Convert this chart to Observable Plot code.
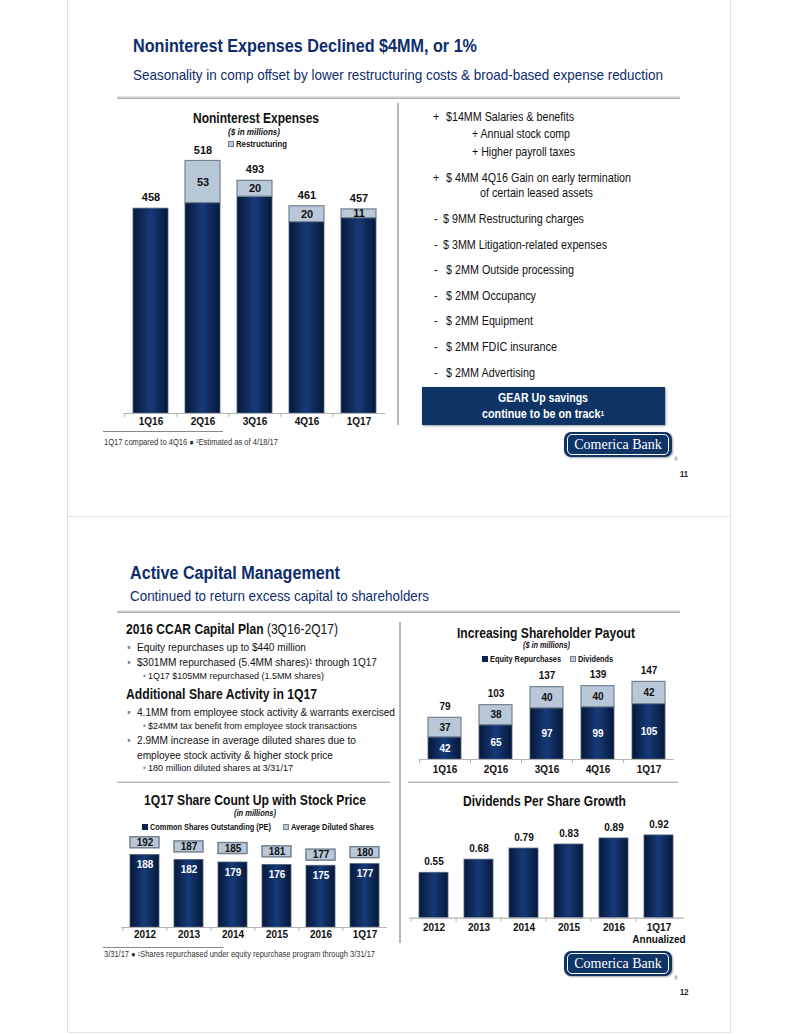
<!DOCTYPE html>
<html><head><meta charset="utf-8">
<script src="https://cdn.jsdelivr.net/npm/d3@7"></script>
<script src="https://cdn.jsdelivr.net/npm/@observablehq/plot@0.6"></script>
<style>
body{margin:0;background:#fff;}
#page{position:relative;width:799px;height:1034px;overflow:hidden;font-family:"Liberation Sans",Arial,sans-serif;}
.t{position:absolute;white-space:nowrap;transform-origin:0 50%;}
.t sup{font-size:60%;vertical-align:top;position:relative;top:-0.1em;}
.abs{position:absolute;}
.plot{position:absolute;}
</style></head><body>
<svg width="0" height="0" style="position:absolute">
  <defs>
    <linearGradient id="navy" x1="0" x2="1" y1="0" y2="0">
      <stop offset="0" stop-color="#06183a"/>
      <stop offset="0.5" stop-color="#163a78"/>
      <stop offset="1" stop-color="#06183a"/>
    </linearGradient>
  </defs>
</svg>
<div id="page"></div>
<script>
// ---------------- DATA ----------------
const nieQuarters = ["1Q16","2Q16","3Q16","4Q16","1Q17"];
const nieTotal = [458,518,493,461,457];
const nieRestructuring = [0,53,20,20,11];
const nieAxisMin = 200;

const payoutQuarters = ["1Q16","2Q16","3Q16","4Q16","1Q17"];
const equityRepurchases = [42,65,97,99,105];
const dividends = [37,38,40,40,42];
const payoutTotal = [79,103,137,139,147];

const shareYears = ["2012","2013","2014","2015","2016","1Q17"];
const commonShares = [188,182,179,176,175,177];
const dilutedShares = [192,187,185,181,177,180];
const shareAxisMin = 100;

const dpsYears = ["2012","2013","2014","2015","2016","1Q17"];
const dpsValues = [0.55,0.68,0.79,0.83,0.89,0.92];
const dpsAxisMin = 0.1;

// ---------------- STYLE ----------------
const NAVY = "#0d2d6c";
const LIGHT = "#b8c8d8";
const LIGHT_STROKE = "#75828f";
const FONT = '"Liberation Sans",Arial,sans-serif';
const page = document.getElementById("page");

function txt(html, x, y, o = {}) {
  const size = o.size || 12;
  const d = document.createElement("div");
  d.className = "t";
  d.innerHTML = html;
  d.style.fontSize = size + "px";
  d.style.lineHeight = (size * 1.2) + "px";
  d.style.top = (y - size * 0.6) + "px";
  d.style.color = o.color || "#111";
  if (o.bold) d.style.fontWeight = "bold";
  if (o.italic) d.style.fontStyle = "italic";
  page.appendChild(d);
  const nat = d.getBoundingClientRect().width;
  const w = o.w || nat * 0.84;
  const s = w / nat;
  let left = x;
  if (o.anchor === "middle") left = x - w / 2;
  if (o.anchor === "end") left = x - w;
  d.style.left = left + "px";
  d.style.transform = `scaleX(${s})`;
  return d;
}
function box(x, y, w, h, css) {
  const d = document.createElement("div");
  d.className = "abs";
  Object.assign(d.style, {left: x + "px", top: y + "px", width: w + "px", height: h + "px"}, css);
  page.appendChild(d);
  return d;
}
function rule(x1, x2, y, thick = 3) {
  box(x1, y - thick / 2, x2 - x1, thick, {background: "linear-gradient(#f0f0f0,#a8a8a8)"});
}
function vline(x, y1, y2) { box(x - 1, y1, 2, y2 - y1, {background: "#b8b8b8"}); }
function square(x, y, dark) {
  box(x - 3, y - 3, 6, 6, dark ? {background: "#0a224f"} : {background: LIGHT, border: "1px solid " + LIGHT_STROKE, boxSizing: "border-box"});
}
function logo(x, y) {
  const o = box(x, y, 108, 25, {background: "#0f3468", borderRadius: "7px", boxShadow: "1px 1px 2px rgba(0,0,0,0.35)"});
  const i = document.createElement("div");
  Object.assign(i.style, {position: "absolute", left: "3px", top: "2px", right: "3px", bottom: "2px", border: "1px solid #fff", borderRadius: "5px",
    color: "#fff", fontFamily: '"Liberation Serif","DejaVu Serif",serif', fontSize: "14px", lineHeight: "19px", textAlign: "center"});
  i.textContent = "Comerica Bank";
  o.appendChild(i);
}
function place(svg, left, top) {
  svg.classList.add("plot");
  svg.style.left = left + "px";
  svg.style.top = top + "px";
  page.appendChild(svg);
}

// ---------------- SLIDE FRAMES ----------------
box(67, -2, 664, 519, {border: "1px solid #e2e2e2", boxSizing: "border-box"});
box(67, 516, 664, 517, {border: "1px solid #e2e2e2", boxSizing: "border-box"});

// ---------------- SLIDE 1 ----------------
txt("Noninterest Expenses Declined $4MM, or 1%", 133, 47, {size: 18, bold: true, color: NAVY, w: 344});
txt("Seasonality in comp offset by lower restructuring costs &amp; broad-based expense reduction", 133, 75, {size: 15, color: NAVY, w: 530});
rule(117, 680, 97);
vline(398, 103, 425);

txt("Noninterest Expenses", 256, 118, {size: 15, bold: true, anchor: "middle", w: 126});
txt("($ in millions)", 254, 132, {size: 9, bold: true, italic: true, anchor: "middle", w: 52});
square(231, 144, false);
txt("Restructuring", 236, 144, {size: 9, bold: true, w: 51});

{
  const data = nieQuarters.map((q, i) => ({q, total: nieTotal[i], restr: nieRestructuring[i], core: nieTotal[i] - nieRestructuring[i]}));
  const W = 300, H = 295, ml = 23.25, mr = 14.75, mt = 10, mb = 22;
  const yMax = 531.2;
  const step = (W - ml - mr) / nieQuarters.length;
  const ppu = (H - mt - mb) / (yMax - nieAxisMin);
  const svg = Plot.plot({
    width: W, height: H, marginLeft: ml, marginRight: mr, marginTop: mt, marginBottom: mb,
    x: {domain: nieQuarters, paddingInner: 0.333, paddingOuter: 0.1667, axis: null},
    y: {domain: [nieAxisMin, yMax], axis: null},
    style: {fontFamily: FONT, overflow: "visible", background: "transparent"},
    marks: [
      Plot.barY(data, {x: "q", y1: () => nieAxisMin, y2: "core", fill: "url(#navy)", stroke: "#4d5f7a", strokeWidth: 0.8}),
      Plot.barY(data.filter(d => d.restr > 0), {x: "q", y1: "core", y2: "total", fill: LIGHT, stroke: LIGHT_STROKE, strokeWidth: 1.2}),
      Plot.ruleY([nieAxisMin], {stroke: "#b5b5b5", strokeWidth: 1.2}),
      Plot.ruleX(nieQuarters, {x: d => d, dx: -step / 2, y1: nieAxisMin, y2: nieAxisMin - 4 / ppu, stroke: "#b5b5b5"}),
      Plot.text(data, {x: "q", y: "total", dy: -11, text: d => String(d.total), fontSize: 11, fontWeight: "bold", fill: "#111"}),
      Plot.text(data.filter(d => d.restr > 0), {x: "q", y: d => (d.core + d.total) / 2, text: d => String(d.restr), fontSize: 11, fontWeight: "bold", fill: "#111"}),
      Plot.text(data, {x: "q", frameAnchor: "bottom", dy: 11, text: "q", fontSize: 10, fontWeight: "bold", fill: "#111"})
    ]
  });
  place(svg, 100, 140);
}

// right-side list
const L = 12.8;
txt("+", 433, 117, {size: L}); txt("$14MM Salaries &amp; benefits", 446, 117, {size: L, w: 128});
txt("+ Annual stock comp", 472, 134, {size: L, w: 98});
txt("+ Higher payroll taxes", 472, 152, {size: L, w: 103});
txt("+", 433, 178, {size: L}); txt("$ 4MM 4Q16 Gain on early termination", 446, 178, {size: L, w: 185});
txt("of certain leased assets", 480, 193, {size: L, w: 113});
txt("-", 434, 219, {size: L}); txt("$ 9MM Restructuring charges", 443, 219, {size: L, w: 141});
txt("-", 434, 245, {size: L}); txt("$ 3MM Litigation-related expenses", 443, 245, {size: L, w: 164});
txt("-", 434, 270, {size: L}); txt("$ 2MM Outside processing", 446, 270, {size: L, w: 128});
txt("-", 434, 296, {size: L}); txt("$ 2MM Occupancy", 446, 296, {size: L, w: 90});
txt("-", 434, 321, {size: L}); txt("$ 2MM Equipment", 446, 321, {size: L, w: 87});
txt("-", 434, 347, {size: L}); txt("$ 2MM FDIC insurance", 446, 347, {size: L, w: 111});
txt("-", 434, 373, {size: L}); txt("$ 2MM Advertising", 446, 373, {size: L, w: 89});

box(422, 387, 243, 38, {background: "#0e3466", boxShadow: "1px 1px 2px rgba(0,0,0,0.4)"});
txt("GEAR Up savings", 543, 398, {size: 12.5, bold: true, color: "#fff", anchor: "middle", w: 90});
txt("continue to be on track<sup>1</sup>", 543, 414, {size: 12.5, bold: true, color: "#fff", anchor: "middle", w: 122});

box(103, 431, 120, 1, {background: "#8a8a8a"});
txt("1Q17 compared to 4Q16 &#9679; <sup>1</sup>Estimated as of 4/18/17", 104, 442, {size: 8.5, color: "#333", w: 174});
logo(564, 432);
txt("&reg;", 674, 460, {size: 6, color: "#555"});
txt("11", 680, 474, {size: 9, bold: true, color: "#222"});

// ---------------- SLIDE 2 ----------------
txt("Active Capital Management", 130, 574, {size: 18, bold: true, color: NAVY, w: 210});
txt("Continued to return excess capital to shareholders", 130, 596, {size: 15, color: NAVY, w: 299});
rule(117, 680, 611);
vline(400, 622, 943);

const B = 11.5, S = 9.3;
txt("<b>2016 CCAR Capital Plan</b> (3Q16-2Q17)", 126, 630, {size: 14.5, w: 212});
txt("&#9642;", 127, 648, {size: B, color: "#888"}); txt("Equity repurchases up to $440 million", 137, 648, {size: B, w: 169});
txt("&#9642;", 127, 663, {size: B, color: "#888"}); txt("$301MM repurchased (5.4MM shares)<sup>1</sup> through 1Q17", 137, 663, {size: B, w: 240});
txt("&#8226;", 143, 677, {size: S, color: "#888"}); txt("1Q17 $105MM repurchased (1.5MM shares)", 148, 677, {size: S, w: 176});
txt("Additional Share Activity in 1Q17", 126, 695, {size: 14.5, bold: true, w: 191});
txt("&#9642;", 127, 713, {size: B, color: "#888"}); txt("4.1MM from employee stock activity &amp; warrants exercised", 137, 713, {size: B, w: 258});
txt("&#8226;", 143, 727, {size: S, color: "#888"}); txt("$24MM tax benefit from employee stock transactions", 148, 727, {size: S, w: 209});
txt("&#9642;", 127, 741, {size: B, color: "#888"}); txt("2.9MM increase in average diluted shares due to", 137, 741, {size: B, w: 219});
txt("employee stock activity &amp; higher stock price", 137, 756, {size: B, w: 196});
txt("&#8226;", 143, 769, {size: S, color: "#888"}); txt("180 million diluted shares at 3/31/17", 148, 769, {size: S, w: 145});
rule(117, 390, 782, 2.5);

// Chart 2: Increasing Shareholder Payout
txt("Increasing Shareholder Payout", 546, 633, {size: 15, bold: true, anchor: "middle", w: 178});
txt("($ in millions)", 546, 645, {size: 9, bold: true, italic: true, anchor: "middle", w: 47});
square(485, 659, true); txt("Equity Repurchases", 490, 659, {size: 9, bold: true, w: 71});
square(573, 659, false); txt("Dividends", 578, 659, {size: 9, bold: true, w: 35});
{
  const data = payoutQuarters.map((q, i) => ({q, eq: equityRepurchases[i], div: dividends[i], total: payoutTotal[i]}));
  const W = 285, H = 120, ml = 19, mr = 11, mt = 10, mb = 21, yMax = 168.6;
  const step = (W - ml - mr) / payoutQuarters.length;
  const ppu = (H - mt - mb) / yMax;
  const svg = Plot.plot({
    width: W, height: H, marginLeft: ml, marginRight: mr, marginTop: mt, marginBottom: mb,
    x: {domain: payoutQuarters, paddingInner: 0.353, paddingOuter: 0.176, axis: null},
    y: {domain: [0, yMax], axis: null},
    style: {fontFamily: FONT, overflow: "visible", background: "transparent"},
    marks: [
      Plot.barY(data, {x: "q", y1: () => 0, y2: "eq", fill: "url(#navy)", stroke: "#4d5f7a", strokeWidth: 0.8}),
      Plot.barY(data, {x: "q", y1: "eq", y2: d => d.eq + d.div, fill: LIGHT, stroke: LIGHT_STROKE, strokeWidth: 1.2}),
      Plot.ruleY([0], {stroke: "#b5b5b5", strokeWidth: 1.2}),
      Plot.ruleX(payoutQuarters, {x: d => d, dx: -step / 2, y1: 0, y2: -4 / ppu, stroke: "#b5b5b5"}),
      Plot.text(data, {x: "q", y: d => d.eq / 2, text: d => String(d.eq), fontSize: 10, fontWeight: "bold", fill: "#fff"}),
      Plot.text(data, {x: "q", y: d => d.eq + d.div / 2, text: d => String(d.div), fontSize: 10, fontWeight: "bold", fill: "#111"}),
      Plot.text(data, {x: "q", y: "total", dy: -11, text: d => String(d.total), fontSize: 10, fontWeight: "bold", fill: "#111"}),
      Plot.text(data, {x: "q", frameAnchor: "bottom", dy: 13, text: "q", fontSize: 10, fontWeight: "bold", fill: "#111"})
    ]
  });
  place(svg, 400, 660);
}
rule(408, 678, 782, 2.5);

// Chart 3: Share count
txt("1Q17 Share Count Up with Stock Price", 255, 800, {size: 15, bold: true, anchor: "middle", w: 222});
txt("(in millions)", 255, 813, {size: 9, bold: true, italic: true, anchor: "middle", w: 42});
square(145, 827, true); txt("Common Shares Outstanding (PE)", 150, 827, {size: 9, bold: true, w: 121});
square(286, 827, false); txt("Average Diluted Shares", 291, 827, {size: 9, bold: true, w: 83});
{
  const data = shareYears.map((y, i) => ({y, common: commonShares[i], diluted: dilutedShares[i]}));
  const W = 300, H = 118, ml = 21.4, mr = 13.4, mt = 5, mb = 21, yMax = 211.8;
  const step = (W - ml - mr) / shareYears.length;
  const ppu = (H - mt - mb) / (yMax - shareAxisMin);
  const lift = 9 / ppu, half = 5.5 / ppu;
  const svg = Plot.plot({
    width: W, height: H, marginLeft: ml, marginRight: mr, marginTop: mt, marginBottom: mb,
    x: {domain: shareYears, paddingInner: 0.344, paddingOuter: 0.172, axis: null},
    y: {domain: [shareAxisMin, yMax], axis: null},
    style: {fontFamily: FONT, overflow: "visible", background: "transparent"},
    marks: [
      Plot.barY(data, {x: "y", y1: () => shareAxisMin, y2: "common", fill: "url(#navy)", stroke: "#4d5f7a", strokeWidth: 0.8}),
      Plot.barY(data, {x: "y", y1: d => d.diluted + lift - half, y2: d => d.diluted + lift + half, fill: LIGHT, stroke: LIGHT_STROKE, strokeWidth: 1.5}),
      Plot.ruleY([shareAxisMin], {stroke: "#b5b5b5", strokeWidth: 1.2}),
      Plot.ruleX(shareYears, {x: d => d, dx: -step / 2, y1: shareAxisMin, y2: shareAxisMin - 4 / ppu, stroke: "#b5b5b5"}),
      Plot.text(data, {x: "y", y: d => d.diluted + lift, text: d => String(d.diluted), fontSize: 10, fontWeight: "bold", fill: "#111"}),
      Plot.text(data, {x: "y", y: "common", dy: 10, text: d => String(d.common), fontSize: 10, fontWeight: "bold", fill: "#fff"}),
      Plot.text(data, {x: "y", frameAnchor: "bottom", dy: 10, text: "y", fontSize: 10, fontWeight: "bold", fill: "#111"})
    ]
  });
  place(svg, 100, 830);
}

// Chart 4: Dividends per share
txt("Dividends Per Share Growth", 544, 801, {size: 15, bold: true, anchor: "middle", w: 163});
{
  const data = dpsYears.map((y, i) => ({y, v: dpsValues[i]}));
  const W = 290, H = 140, ml = 9.1, mr = 6.1, mt = 5, mb = 37.3, yMax = 1.068;
  const step = (W - ml - mr) / dpsYears.length;
  const ppu = (H - mt - mb) / (yMax - dpsAxisMin);
  const svg = Plot.plot({
    width: W, height: H, marginLeft: ml, marginRight: mr, marginTop: mt, marginBottom: mb,
    x: {domain: dpsYears, paddingInner: 0.345, paddingOuter: 0.172, axis: null},
    y: {domain: [dpsAxisMin, yMax], axis: null},
    style: {fontFamily: FONT, overflow: "visible", background: "transparent"},
    marks: [
      Plot.barY(data, {x: "y", y1: () => dpsAxisMin, y2: "v", fill: "url(#navy)", stroke: "#4d5f7a", strokeWidth: 0.8}),
      Plot.ruleY([dpsAxisMin], {stroke: "#b5b5b5", strokeWidth: 1.2}),
      Plot.ruleX(dpsYears, {x: d => d, dx: -step / 2, y1: dpsAxisMin, y2: dpsAxisMin - 4 / ppu, stroke: "#b5b5b5"}),
      Plot.text(data, {x: "y", y: "v", dy: -11, text: d => d.v.toFixed(2), fontSize: 10, fontWeight: "bold", fill: "#111"}),
      Plot.text(data, {x: "y", frameAnchor: "bottom", dy: 13, text: "y", fontSize: 10, fontWeight: "bold", fill: "#111"}),
      Plot.text(data.filter(d => d.y === "1Q17"), {x: "y", frameAnchor: "bottom", dy: 25, text: () => "Annualized", fontSize: 10, fontWeight: "bold", fill: "#111"})
    ]
  });
  place(svg, 400, 815);
}

box(103, 947, 120, 1, {background: "#8a8a8a"});
txt("3/31/17 &#9679; <sup>1</sup>Shares repurchased under equity repurchase program through 3/31/17", 104, 955, {size: 8.3, color: "#333", w: 271});
logo(564, 951);
txt("&reg;", 674, 979, {size: 6, color: "#555"});
txt("12", 680, 992, {size: 9, bold: true, color: "#222"});
</script>
</body></html>
